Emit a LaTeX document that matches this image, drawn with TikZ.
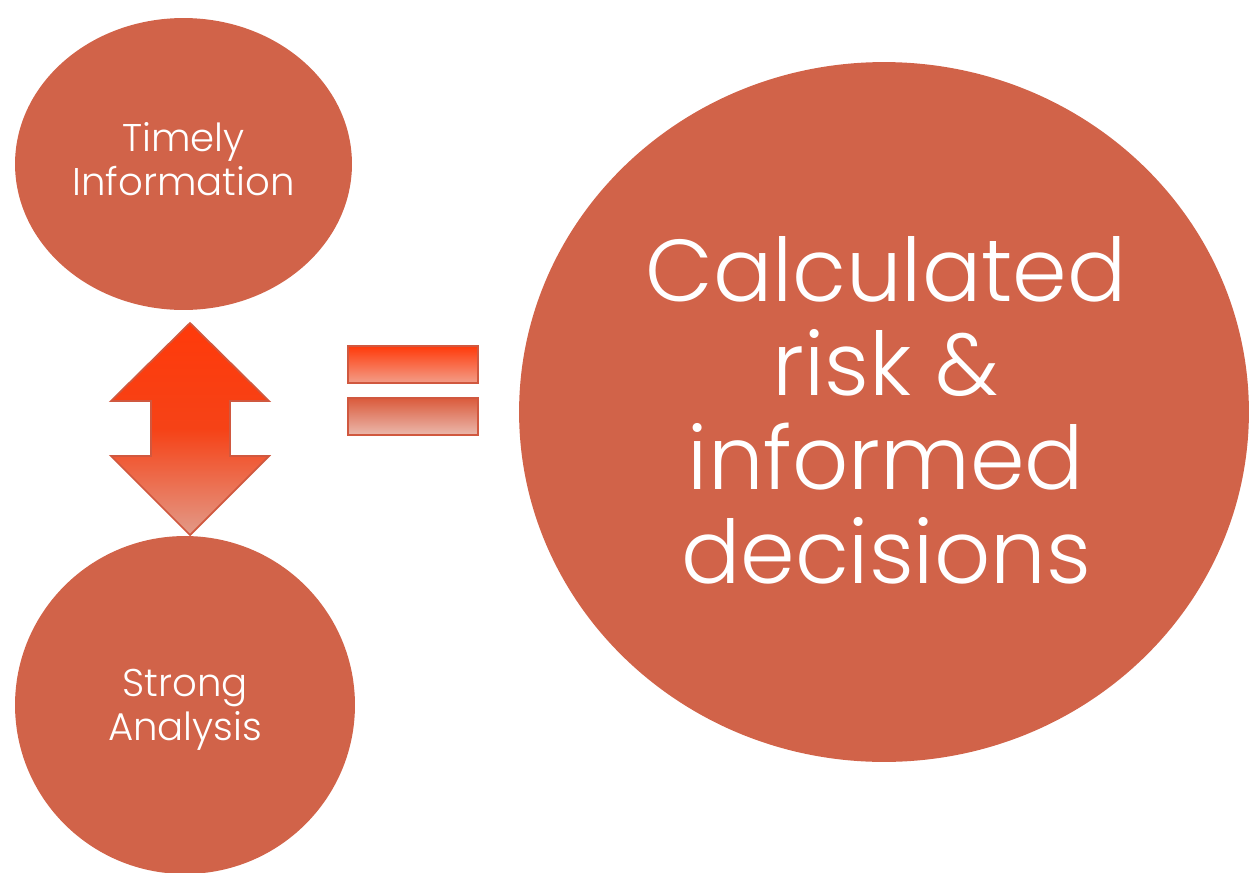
\documentclass[tikz,border=0pt]{standalone}
\usepackage{fontspec}
\setmainfont{Poppins Light}
\usetikzlibrary{shapes.geometric}
\definecolor{blob}{HTML}{D16349}
\definecolor{arrowline}{HTML}{D0583F}
\definecolor{hot}{HTML}{FF3A0A}
\definecolor{pale}{HTML}{E29A88}
\tikzset{
  blobnode/.style={ellipse, fill=blob, draw=none, inner sep=0pt},
  label/.style={text=white, align=center, inner sep=0pt},
  smalltext/.style={font=\fontsize{22}{25}\selectfont},
  bigtext/.style={font=\fontsize{50}{53.5}\selectfont},
  hotshape/.style={draw=arrowline, line width=1pt, line join=miter},
}
\begin{document}
\begin{tikzpicture}[x=0.02cm,y=-0.02cm]
\useasboundingbox (0,0) rectangle (1249,873);
\node[blobnode, minimum width=6.74cm, minimum height=5.84cm] (timely) at (183.5,164) {};
\node[blobnode, minimum width=6.8cm, minimum height=6.76cm] (strong) at (185,705) {};
\node[blobnode, minimum width=14.6cm, minimum height=14.0cm] (result) at (884,412) {};
\node[label, smalltext] (timelytext) at (183.5,159) {Timely\\Information};
\node[label, smalltext] (strongtext) at (185,710) {Strong\\Analysis};
\node[label, bigtext] (resulttext) at (886,410) {Calculated\\risk \&\\informed\\decisions};
% double arrow
\draw[hotshape, top color=hot, bottom color=pale, middle color=hot!80!blob]
  (190,323) -- (269,401) -- (230,401) -- (230,456) -- (269,456) -- (190,535)
  -- (111,456) -- (151,456) -- (151,401) -- (111,401) -- cycle;
% equals sign
\draw[hotshape, top color=hot, bottom color=hot!40!pale!70!white] (348,346) rectangle (478,383);
\draw[hotshape, top color=blob!80!hot, bottom color=pale!70!white] (348,398) rectangle (478,435);
\end{tikzpicture}
\end{document}
